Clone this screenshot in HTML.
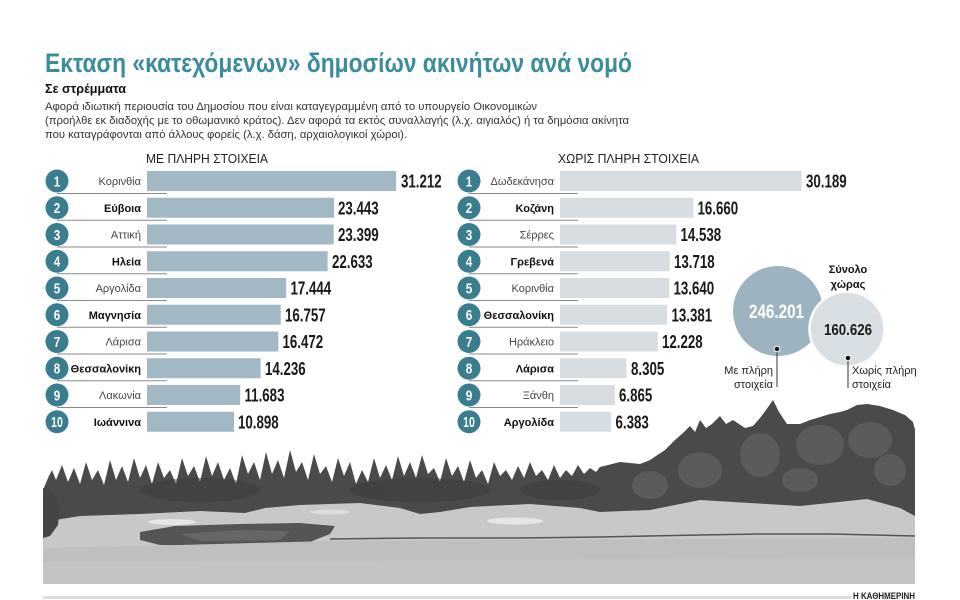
<!DOCTYPE html>
<html><head><meta charset="utf-8"><style>
html,body{margin:0;padding:0;background:#fff;}
svg{display:block;}
text{font-family:"Liberation Sans","DejaVu Sans",sans-serif;}
</style></head><body>
<svg width="960" height="600" viewBox="0 0 960 600" xmlns="http://www.w3.org/2000/svg">
<rect width="960" height="600" fill="#fff"/>

<!-- Header -->
<text x="45" y="72" font-size="27" font-weight="bold" fill="#3b8c9c" textLength="587" lengthAdjust="spacingAndGlyphs">Εκταση «κατεχόμενων» δημοσίων ακινήτων ανά νομό</text>
<text x="45" y="93" font-size="13" font-weight="bold" fill="#111" textLength="81" lengthAdjust="spacingAndGlyphs">Σε στρέμματα</text>
<text x="45" y="110" font-size="11" fill="#333" textLength="492" lengthAdjust="spacingAndGlyphs">Αφορά ιδιωτική περιουσία του Δημοσίου που είναι καταγεγραμμένη από το υπουργείο Οικονομικών</text>
<text x="45" y="124" font-size="11" fill="#333" textLength="584" lengthAdjust="spacingAndGlyphs">(προήλθε εκ διαδοχής με το οθωμανικό κράτος). Δεν αφορά τα εκτός συναλλαγής (λ.χ. αιγιαλός) ή τα δημόσια ακίνητα</text>
<text x="45" y="138" font-size="11" fill="#333" textLength="362" lengthAdjust="spacingAndGlyphs">που καταγράφονται από άλλους φορείς (λ.χ. δάση, αρχαιολογικοί χώροι).</text>

<text x="146" y="163" font-size="13" fill="#222" textLength="122" lengthAdjust="spacingAndGlyphs">ΜΕ ΠΛΗΡΗ ΣΤΟΙΧΕΙΑ</text>
<text x="558" y="163" font-size="13" fill="#222" textLength="141" lengthAdjust="spacingAndGlyphs">ΧΩΡΙΣ ΠΛΗΡΗ ΣΤΟΙΧΕΙΑ</text>

<!-- separators -->
<g stroke="#8a8a8a" stroke-width="1">
<line x1="57" y1="193.5" x2="167" y2="193.5"/>
<line x1="57" y1="220.25" x2="167" y2="220.25"/>
<line x1="57" y1="247" x2="167" y2="247"/>
<line x1="57" y1="273.75" x2="167" y2="273.75"/>
<line x1="57" y1="300.5" x2="167" y2="300.5"/>
<line x1="57" y1="327.25" x2="167" y2="327.25"/>
<line x1="57" y1="354" x2="167" y2="354"/>
<line x1="57" y1="380.75" x2="167" y2="380.75"/>
<line x1="57" y1="407.5" x2="167" y2="407.5"/>
<line x1="469" y1="193.5" x2="578" y2="193.5"/>
<line x1="469" y1="220.25" x2="578" y2="220.25"/>
<line x1="469" y1="247" x2="578" y2="247"/>
<line x1="469" y1="273.75" x2="578" y2="273.75"/>
<line x1="469" y1="300.5" x2="578" y2="300.5"/>
<line x1="469" y1="327.25" x2="578" y2="327.25"/>
<line x1="469" y1="354" x2="578" y2="354"/>
<line x1="469" y1="380.75" x2="578" y2="380.75"/>
<line x1="469" y1="407.5" x2="578" y2="407.5"/>
</g>

<!-- Left bars -->
<g fill="#a2b8c4">
<rect x="147" y="171" width="249.1" height="20"/>
<rect x="147" y="197.75" width="187.1" height="20"/>
<rect x="147" y="224.5" width="186.7" height="20"/>
<rect x="147" y="251.25" width="180.6" height="20"/>
<rect x="147" y="278" width="139.2" height="20"/>
<rect x="147" y="304.75" width="133.7" height="20"/>
<rect x="147" y="331.5" width="131.4" height="20"/>
<rect x="147" y="358.25" width="113.6" height="20"/>
<rect x="147" y="385" width="93.2" height="20"/>
<rect x="147" y="411.75" width="87" height="20"/>
</g>
<!-- Right bars -->
<g fill="#d6dde3">
<rect x="560" y="171" width="241.5" height="20"/>
<rect x="560" y="197.75" width="133.3" height="20"/>
<rect x="560" y="224.5" width="116.3" height="20"/>
<rect x="560" y="251.25" width="109.7" height="20"/>
<rect x="560" y="278" width="109.1" height="20"/>
<rect x="560" y="304.75" width="107" height="20"/>
<rect x="560" y="331.5" width="97.8" height="20"/>
<rect x="560" y="358.25" width="66.4" height="20"/>
<rect x="560" y="385" width="54.9" height="20"/>
<rect x="560" y="411.75" width="51.1" height="20"/>
</g>

<!-- Rank circles -->
<g fill="#3a7d8e">
<circle cx="57" cy="181" r="11.5"/><circle cx="57" cy="207.75" r="11.5"/><circle cx="57" cy="234.5" r="11.5"/><circle cx="57" cy="261.25" r="11.5"/><circle cx="57" cy="288" r="11.5"/>
<circle cx="57" cy="314.75" r="11.5"/><circle cx="57" cy="341.5" r="11.5"/><circle cx="57" cy="368.25" r="11.5"/><circle cx="57" cy="395" r="11.5"/><circle cx="57" cy="421.75" r="11.5"/>
<circle cx="469" cy="181" r="11.5"/><circle cx="469" cy="207.75" r="11.5"/><circle cx="469" cy="234.5" r="11.5"/><circle cx="469" cy="261.25" r="11.5"/><circle cx="469" cy="288" r="11.5"/>
<circle cx="469" cy="314.75" r="11.5"/><circle cx="469" cy="341.5" r="11.5"/><circle cx="469" cy="368.25" r="11.5"/><circle cx="469" cy="395" r="11.5"/><circle cx="469" cy="421.75" r="11.5"/>
</g>
<g fill="#fff" font-size="15" font-weight="bold" text-anchor="middle">
<text transform="translate(57,186.3) scale(0.78,1)">1</text>
<text transform="translate(57,213.05) scale(0.78,1)">2</text>
<text transform="translate(57,239.8) scale(0.78,1)">3</text>
<text transform="translate(57,266.55) scale(0.78,1)">4</text>
<text transform="translate(57,293.3) scale(0.78,1)">5</text>
<text transform="translate(57,320.05) scale(0.78,1)">6</text>
<text transform="translate(57,346.8) scale(0.78,1)">7</text>
<text transform="translate(57,373.55) scale(0.78,1)">8</text>
<text transform="translate(57,400.3) scale(0.78,1)">9</text>
<text transform="translate(57,427.05) scale(0.7,1)">10</text>
<text transform="translate(469,186.3) scale(0.78,1)">1</text>
<text transform="translate(469,213.05) scale(0.78,1)">2</text>
<text transform="translate(469,239.8) scale(0.78,1)">3</text>
<text transform="translate(469,266.55) scale(0.78,1)">4</text>
<text transform="translate(469,293.3) scale(0.78,1)">5</text>
<text transform="translate(469,320.05) scale(0.78,1)">6</text>
<text transform="translate(469,346.8) scale(0.78,1)">7</text>
<text transform="translate(469,373.55) scale(0.78,1)">8</text>
<text transform="translate(469,400.3) scale(0.78,1)">9</text>
<text transform="translate(469,427.05) scale(0.7,1)">10</text>
</g>

<!-- Labels -->
<g font-size="11" text-anchor="end">
<text x="141" y="185" fill="#444">Κορινθία</text>
<text x="141" y="211.75" fill="#111" font-weight="bold">Εύβοια</text>
<text x="141" y="238.5" fill="#444">Αττική</text>
<text x="141" y="265.25" fill="#111" font-weight="bold">Ηλεία</text>
<text x="141" y="292" fill="#444">Αργολίδα</text>
<text x="141" y="318.75" fill="#111" font-weight="bold">Μαγνησία</text>
<text x="141" y="345.5" fill="#444">Λάρισα</text>
<text x="141" y="372.25" fill="#111" font-weight="bold">Θεσσαλονίκη</text>
<text x="141" y="399" fill="#444">Λακωνία</text>
<text x="141" y="425.75" fill="#111" font-weight="bold">Ιωάννινα</text>
<text x="554" y="185" fill="#444">Δωδεκάνησα</text>
<text x="554" y="211.75" fill="#111" font-weight="bold">Κοζάνη</text>
<text x="554" y="238.5" fill="#444">Σέρρες</text>
<text x="554" y="265.25" fill="#111" font-weight="bold">Γρεβενά</text>
<text x="554" y="292" fill="#444">Κορινθία</text>
<text x="554" y="318.75" fill="#111" font-weight="bold">Θεσσαλονίκη</text>
<text x="554" y="345.5" fill="#444">Ηράκλειο</text>
<text x="554" y="372.25" fill="#111" font-weight="bold">Λάρισα</text>
<text x="554" y="399" fill="#444">Ξάνθη</text>
<text x="554" y="425.75" fill="#111" font-weight="bold">Αργολίδα</text>
</g>

<!-- Values -->
<g font-size="18.5" font-weight="bold" fill="#1a1a1a">
<text transform="translate(401,187.5) scale(0.72,1)">31.212</text>
<text transform="translate(338,214.25) scale(0.72,1)">23.443</text>
<text transform="translate(338,241) scale(0.72,1)">23.399</text>
<text transform="translate(332,267.75) scale(0.72,1)">22.633</text>
<text transform="translate(290.5,294.5) scale(0.72,1)">17.444</text>
<text transform="translate(285,321.25) scale(0.72,1)">16.757</text>
<text transform="translate(282.5,348) scale(0.72,1)">16.472</text>
<text transform="translate(265,374.75) scale(0.72,1)">14.236</text>
<text transform="translate(244.5,401.5) scale(0.72,1)">11.683</text>
<text transform="translate(238,428.25) scale(0.72,1)">10.898</text>
<text transform="translate(806,187.5) scale(0.72,1)">30.189</text>
<text transform="translate(697.5,214.25) scale(0.72,1)">16.660</text>
<text transform="translate(680.5,241) scale(0.72,1)">14.538</text>
<text transform="translate(674,267.75) scale(0.72,1)">13.718</text>
<text transform="translate(673.5,294.5) scale(0.72,1)">13.640</text>
<text transform="translate(671.5,321.25) scale(0.72,1)">13.381</text>
<text transform="translate(662,348) scale(0.72,1)">12.228</text>
<text transform="translate(631,374.75) scale(0.72,1)">8.305</text>
<text transform="translate(619,401.5) scale(0.72,1)">6.865</text>
<text transform="translate(615.5,428.25) scale(0.72,1)">6.383</text>
</g>

<!-- Totals circles -->
<circle cx="778" cy="311" r="45" fill="#9db4c0"/>
<circle cx="847" cy="329" r="37.5" fill="#d8e0e5" stroke="#fff" stroke-width="2.5"/>
<text x="776.5" y="318" font-size="19" font-weight="bold" fill="#fff" text-anchor="middle" textLength="55" lengthAdjust="spacingAndGlyphs">246.201</text>
<text x="848" y="335" font-size="16" font-weight="bold" fill="#1a1a1a" text-anchor="middle" textLength="48" lengthAdjust="spacingAndGlyphs">160.626</text>
<text x="848" y="273" font-size="11" font-weight="bold" fill="#111" text-anchor="middle">Σύνολο</text>
<text x="848" y="288" font-size="11" font-weight="bold" fill="#111" text-anchor="middle">χώρας</text>
<line x1="777" y1="349" x2="777" y2="387" stroke="#333" stroke-width="1"/>
<circle cx="777" cy="349" r="2.8" fill="#111" stroke="#fff" stroke-width="1"/>
<line x1="848" y1="358" x2="848" y2="388" stroke="#333" stroke-width="1"/>
<circle cx="848" cy="358" r="2.8" fill="#111" stroke="#fff" stroke-width="1"/>
<text x="773" y="374" font-size="11" fill="#222" text-anchor="end">Με πλήρη</text>
<text x="773" y="388" font-size="11" fill="#222" text-anchor="end">στοιχεία</text>
<text x="852" y="374" font-size="11" fill="#222">Χωρίς πλήρη</text>
<text x="852" y="388" font-size="11" fill="#222">στοιχεία</text>

<!-- Photo -->
<g>
<path fill="#4a4a4a" d="M43,530 L43,490 L48,478 L52,470 L56,480 L62,465 L68,482 L74,468 L80,484 L86,462 L92,480 L98,470 L104,485 L110,460 L116,480 L122,466 L128,482 L134,458 L140,478 L146,465 L152,484 L158,462 L164,478 L170,470 L176,484 L182,458 L188,476 L194,466 L200,482 L206,456 L212,476 L218,462 L224,480 L230,468 L236,484 L242,455 L248,474 L254,462 L260,480 L266,452 L272,474 L278,460 L284,478 L290,450 L296,472 L302,462 L308,480 L314,454 L320,474 L326,466 L332,482 L338,458 L344,476 L350,462 L356,484 L362,470 L368,482 L374,458 L380,478 L386,465 L392,480 L398,456 L404,476 L410,462 L416,478 L422,455 L428,474 L434,468 L440,482 L446,458 L452,476 L458,466 L464,482 L470,460 L476,478 L482,470 L488,484 L494,462 L500,476 L506,470 L512,480 L518,466 L524,478 L530,462 L536,476 L542,470 L548,480 L554,465 L560,478 L566,470 L572,476 L578,465 L584,474 L590,468 L596,472 L600,467 L620,462 L640,464 L650,460 L665,450 L675,440 L683,433 L690,426 L695,432 L700,420 L706,428 L712,424 L720,416 L726,424 L733,420 L745,428 L753,426 L760,418 L766,410 L773,400 L779,412 L787,424 L800,424 L810,420 L817,418 L830,414 L840,412 L847,410 L857,405 L867,404 L880,406 L893,410 L905,415 L913,422 L915,430 L915,530 Z"/>
<g fill="#6a6a6a" opacity="0.55">
<ellipse cx="700" cy="470" rx="22" ry="18"/>
<ellipse cx="760" cy="455" rx="20" ry="22"/>
<ellipse cx="820" cy="445" rx="24" ry="20"/>
<ellipse cx="870" cy="440" rx="22" ry="18"/>
<ellipse cx="650" cy="485" rx="18" ry="14"/>
<ellipse cx="800" cy="480" rx="18" ry="12"/>
<ellipse cx="890" cy="470" rx="16" ry="16"/>
</g>
<g fill="#3a3a3a" opacity="0.5">
<ellipse cx="200" cy="490" rx="60" ry="12"/>
<ellipse cx="420" cy="490" rx="70" ry="12"/>
<ellipse cx="560" cy="490" rx="40" ry="10"/>
</g>
<!-- upper grass hills -->
<path fill="#c8c8c8" d="M43,522 L80,516 L140,514 L200,511 L245,513 L265,508 L300,505 L360,503 L400,508 L420,514 L440,512 L470,507 L530,504 L580,508 L600,512 L650,510 L700,500 L750,503 L800,506 L867,499 L900,508 L915,516 L915,584 L43,584 Z"/>
<ellipse cx="172" cy="522" rx="24" ry="3" fill="#e6e6e6"/>
<ellipse cx="515" cy="521" rx="28" ry="3.5" fill="#e6e6e6"/>
<ellipse cx="330" cy="512" rx="20" ry="2.5" fill="#dddddd"/>
<!-- pond -->
<path fill="#555" d="M140,532 L175,526 L240,524 L300,523 L335,526 L330,534 L305,544 L220,546 L160,545 L140,540 Z"/>
<path fill="#6e6e6e" d="M180,534 L240,530 L290,531 L280,540 L200,541 Z" opacity="0.7"/>
<path d="M330,539 L420,538 L520,538 L600,537 L700,535 L760,534 L830,534 L915,536" stroke="#555" stroke-width="1.5" fill="none"/>
<path fill="#bfbfbf" d="M43,548 L140,546 L330,541 L915,538 L915,584 L43,584 Z"/>
<path fill="#c4c4c4" d="M43,562 L915,558 L915,584 L43,584 Z"/>
<path fill="#454545" d="M43,488 L52,492 L60,505 L58,525 L50,536 L43,538 Z"/>
</g>

<!-- Footer -->
<rect x="43" y="596" width="808" height="3" fill="#dcdcdc"/>
<text x="853" y="599" font-size="9" font-weight="bold" fill="#222" textLength="62" lengthAdjust="spacingAndGlyphs">Η ΚΑΘΗΜΕΡΙΝΗ</text>
</svg>
</body></html>
